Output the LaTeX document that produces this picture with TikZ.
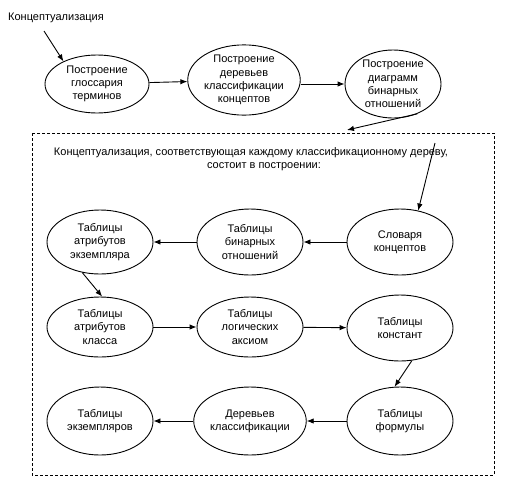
\documentclass[tikz,border=0pt]{standalone}
\usepackage{fontspec}
\setmainfont{Liberation Sans}
\usetikzlibrary{shapes.geometric,arrows.meta}
\begin{document}
\begin{tikzpicture}[x=1pt,y=-1pt,
  ell/.style={ellipse,draw,line width=0.9pt,inner sep=0pt,align=center,
    font=\fontsize{11}{13.3}\selectfont},
  arr/.style={line width=0.9pt,-{Latex[length=7pt,width=5.5pt]}},
  txt/.style={inner sep=0pt,font=\fontsize{11}{13.3}\selectfont}]
\useasboundingbox (0,0) rectangle (529,477);
% title
\node[txt,anchor=west] (title) at (8,18) {Концептуализация};
\coordinate (t0) at (44,31);
% row 1
\node[ell,minimum width=104pt,minimum height=58pt] (g1) at (97,84) {Построение\\глоссария\\терминов};
\node[ell,minimum width=98pt,minimum height=66pt] (g2) at (244,80) {Построение\\деревьев\\классификации\\концептов};
\node[ell,minimum width=96pt,minimum height=68pt] (g3) at (393,84) {Построение\\диаграмм\\бинарных\\отношений};
% dashed box
\draw[line width=0.9pt,dash pattern=on 3pt off 2pt] (32,133) rectangle (494,475);
\coordinate (boxin) at (347,130);
\node[txt] (l1) at (251,153) {Концептуализация, соответствующая каждому классификационному дереву,};
\node[txt] (l2) at (264,167) {состоит в построении:};
\coordinate (t1) at (435,143);
% row 2
\node[ell,minimum width=106pt,minimum height=64pt] (a1) at (100,242) {Таблицы\\атрибутов\\экземпляра};
\node[ell,minimum width=106pt,minimum height=66pt] (a2) at (250,242) {Таблицы\\бинарных\\отношений};
\node[ell,minimum width=106pt,minimum height=66pt] (a3) at (400,242) {Словаря\\концептов};
% row 3
\node[ell,minimum width=106pt,minimum height=60pt] (b1) at (100,327) {Таблицы\\атрибутов\\класса};
\node[ell,minimum width=106pt,minimum height=60pt] (b2) at (250,327) {Таблицы\\логических\\аксиом};
\node[ell,minimum width=106pt,minimum height=66pt] (b3) at (400,328) {Таблицы\\констант};
% row 4
\node[ell,minimum width=106pt,minimum height=68pt] (c1) at (100,421) {Таблицы\\экземпляров};
\node[ell,minimum width=106pt,minimum height=68pt] (c2) at (250,421) {Деревьев\\классификации};
\node[ell,minimum width=106pt,minimum height=68pt] (c3) at (400,421) {Таблицы\\формулы};
% arrows
\draw[arr] (t0) -- (g1.146);
\draw[arr] (g1) -- (g2);
\draw[arr] (g2.east |- g3.west) -- (g3.west);
\draw[arr] (g3.309) -- (boxin);
\draw[arr] (t1) -- (a3.60);
\draw[arr] (a3) -- (a2);
\draw[arr] (a2) -- (a1);
\draw[arr] (a1.240) -- (b1.86);
\draw[arr] (b1) -- (b2);
\draw[arr] (b2) -- (b3);
\draw[arr] (b3.290) -- (c3.99);
\draw[arr] (c3) -- (c2);
\draw[arr] (c2) -- (c1);
\end{tikzpicture}
\end{document}
